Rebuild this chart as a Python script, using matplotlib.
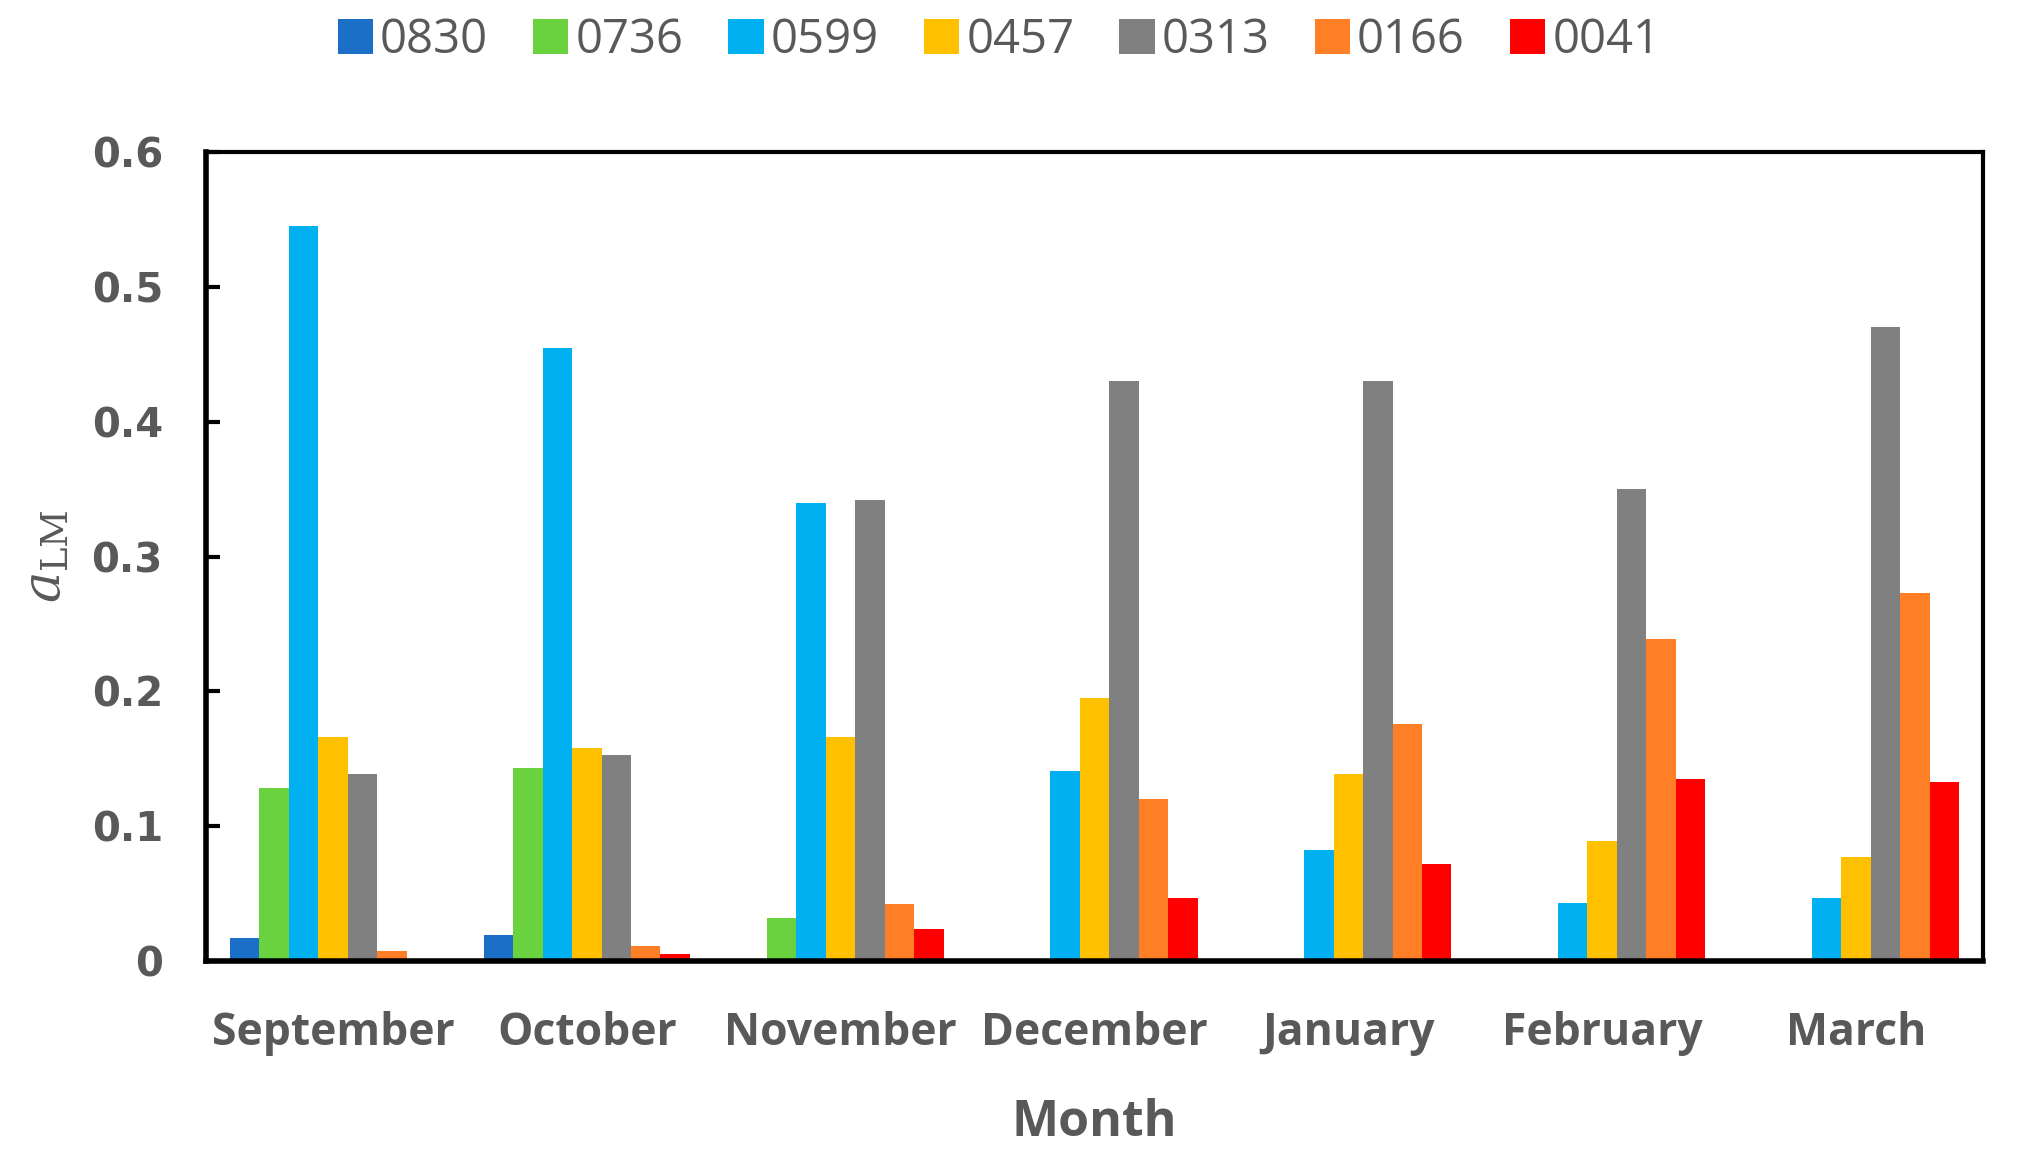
import matplotlib.pyplot as plt
import numpy as np

months = ["September", "October", "November", "December", "January", "February", "March"]
series = ["0830", "0736", "0599", "0457", "0313", "0166", "0041"]
v0830 = [0.017, 0.019, 0.0, 0.0, 0.0, 0.0, 0.0]
v0736 = [0.128, 0.143, 0.032, 0.0, 0.0, 0.0, 0.0]
v0599 = [0.545, 0.455, 0.340, 0.141, 0.082, 0.043, 0.047]
v0457 = [0.166, 0.158, 0.166, 0.195, 0.139, 0.089, 0.077]
v0313 = [0.139, 0.153, 0.342, 0.430, 0.430, 0.350, 0.470]
v0166 = [0.007, 0.011, 0.042, 0.120, 0.176, 0.239, 0.273]
v0041 = [0.0, 0.005, 0.024, 0.047, 0.072, 0.135, 0.133]
values = [v0830, v0736, v0599, v0457, v0313, v0166, v0041]
colors = ["#1C6FC6", "#6AD13F", "#00B0F0", "#FFC000", "#808080", "#FF7F27", "#FF0000"]

plt.rcParams['mathtext.fontset'] = 'dejavuserif'
gray = "#595959"

fig = plt.figure(figsize=(20.22, 11.71), dpi=100)
ax = fig.add_axes([0.1019, 0.1794, 0.8788, 0.6906])

x = np.arange(len(months))
w = 0.116
for i, (name, vals, c) in enumerate(zip(series, values, colors)):
    ax.bar(x + (i - 3) * w, vals, width=w, color=c, label=name)

ax.set_xlim(-0.5, len(months) - 0.5)
ax.set_ylim(0, 0.6)
ax.set_yticks(np.arange(0, 0.61, 0.1))
ax.set_yticklabels(["0", "0.1", "0.2", "0.3", "0.4", "0.5", "0.6"])
ax.set_xticks(x)
ax.set_xticklabels(months)

for s in ax.spines.values():
    s.set_linewidth(3)
    s.set_color("black")
ax.spines['left'].set_linewidth(4)
ax.spines['bottom'].set_linewidth(4)

ax.tick_params(axis='y', direction='in', length=10, width=3, pad=31,
               labelsize=29, labelcolor=gray)
ax.tick_params(axis='x', length=0, pad=36, labelsize=32, labelcolor=gray)
for t in ax.get_yticklabels():
    t.set_fontweight('bold')
for t in ax.get_xticklabels():
    t.set_fontfamily('Open Sans')
    t.set_fontweight('bold')

ax.set_xlabel("Month", fontsize=36, fontweight='bold', color=gray,
              family='Open Sans', labelpad=30)
ax.set_ylabel(r"$a_{\mathrm{LM}}$", fontsize=38, color=gray, labelpad=14)

fig.legend(loc='upper center', bbox_to_anchor=(0.494, 1.022), ncol=7, frameon=False,
           handlelength=0.75, handleheight=0.75, handletextpad=0.15,
           columnspacing=0.95, labelcolor=gray, prop={'family': 'Open Sans', 'size': 34})

fig.savefig("out.png", dpi=100)
